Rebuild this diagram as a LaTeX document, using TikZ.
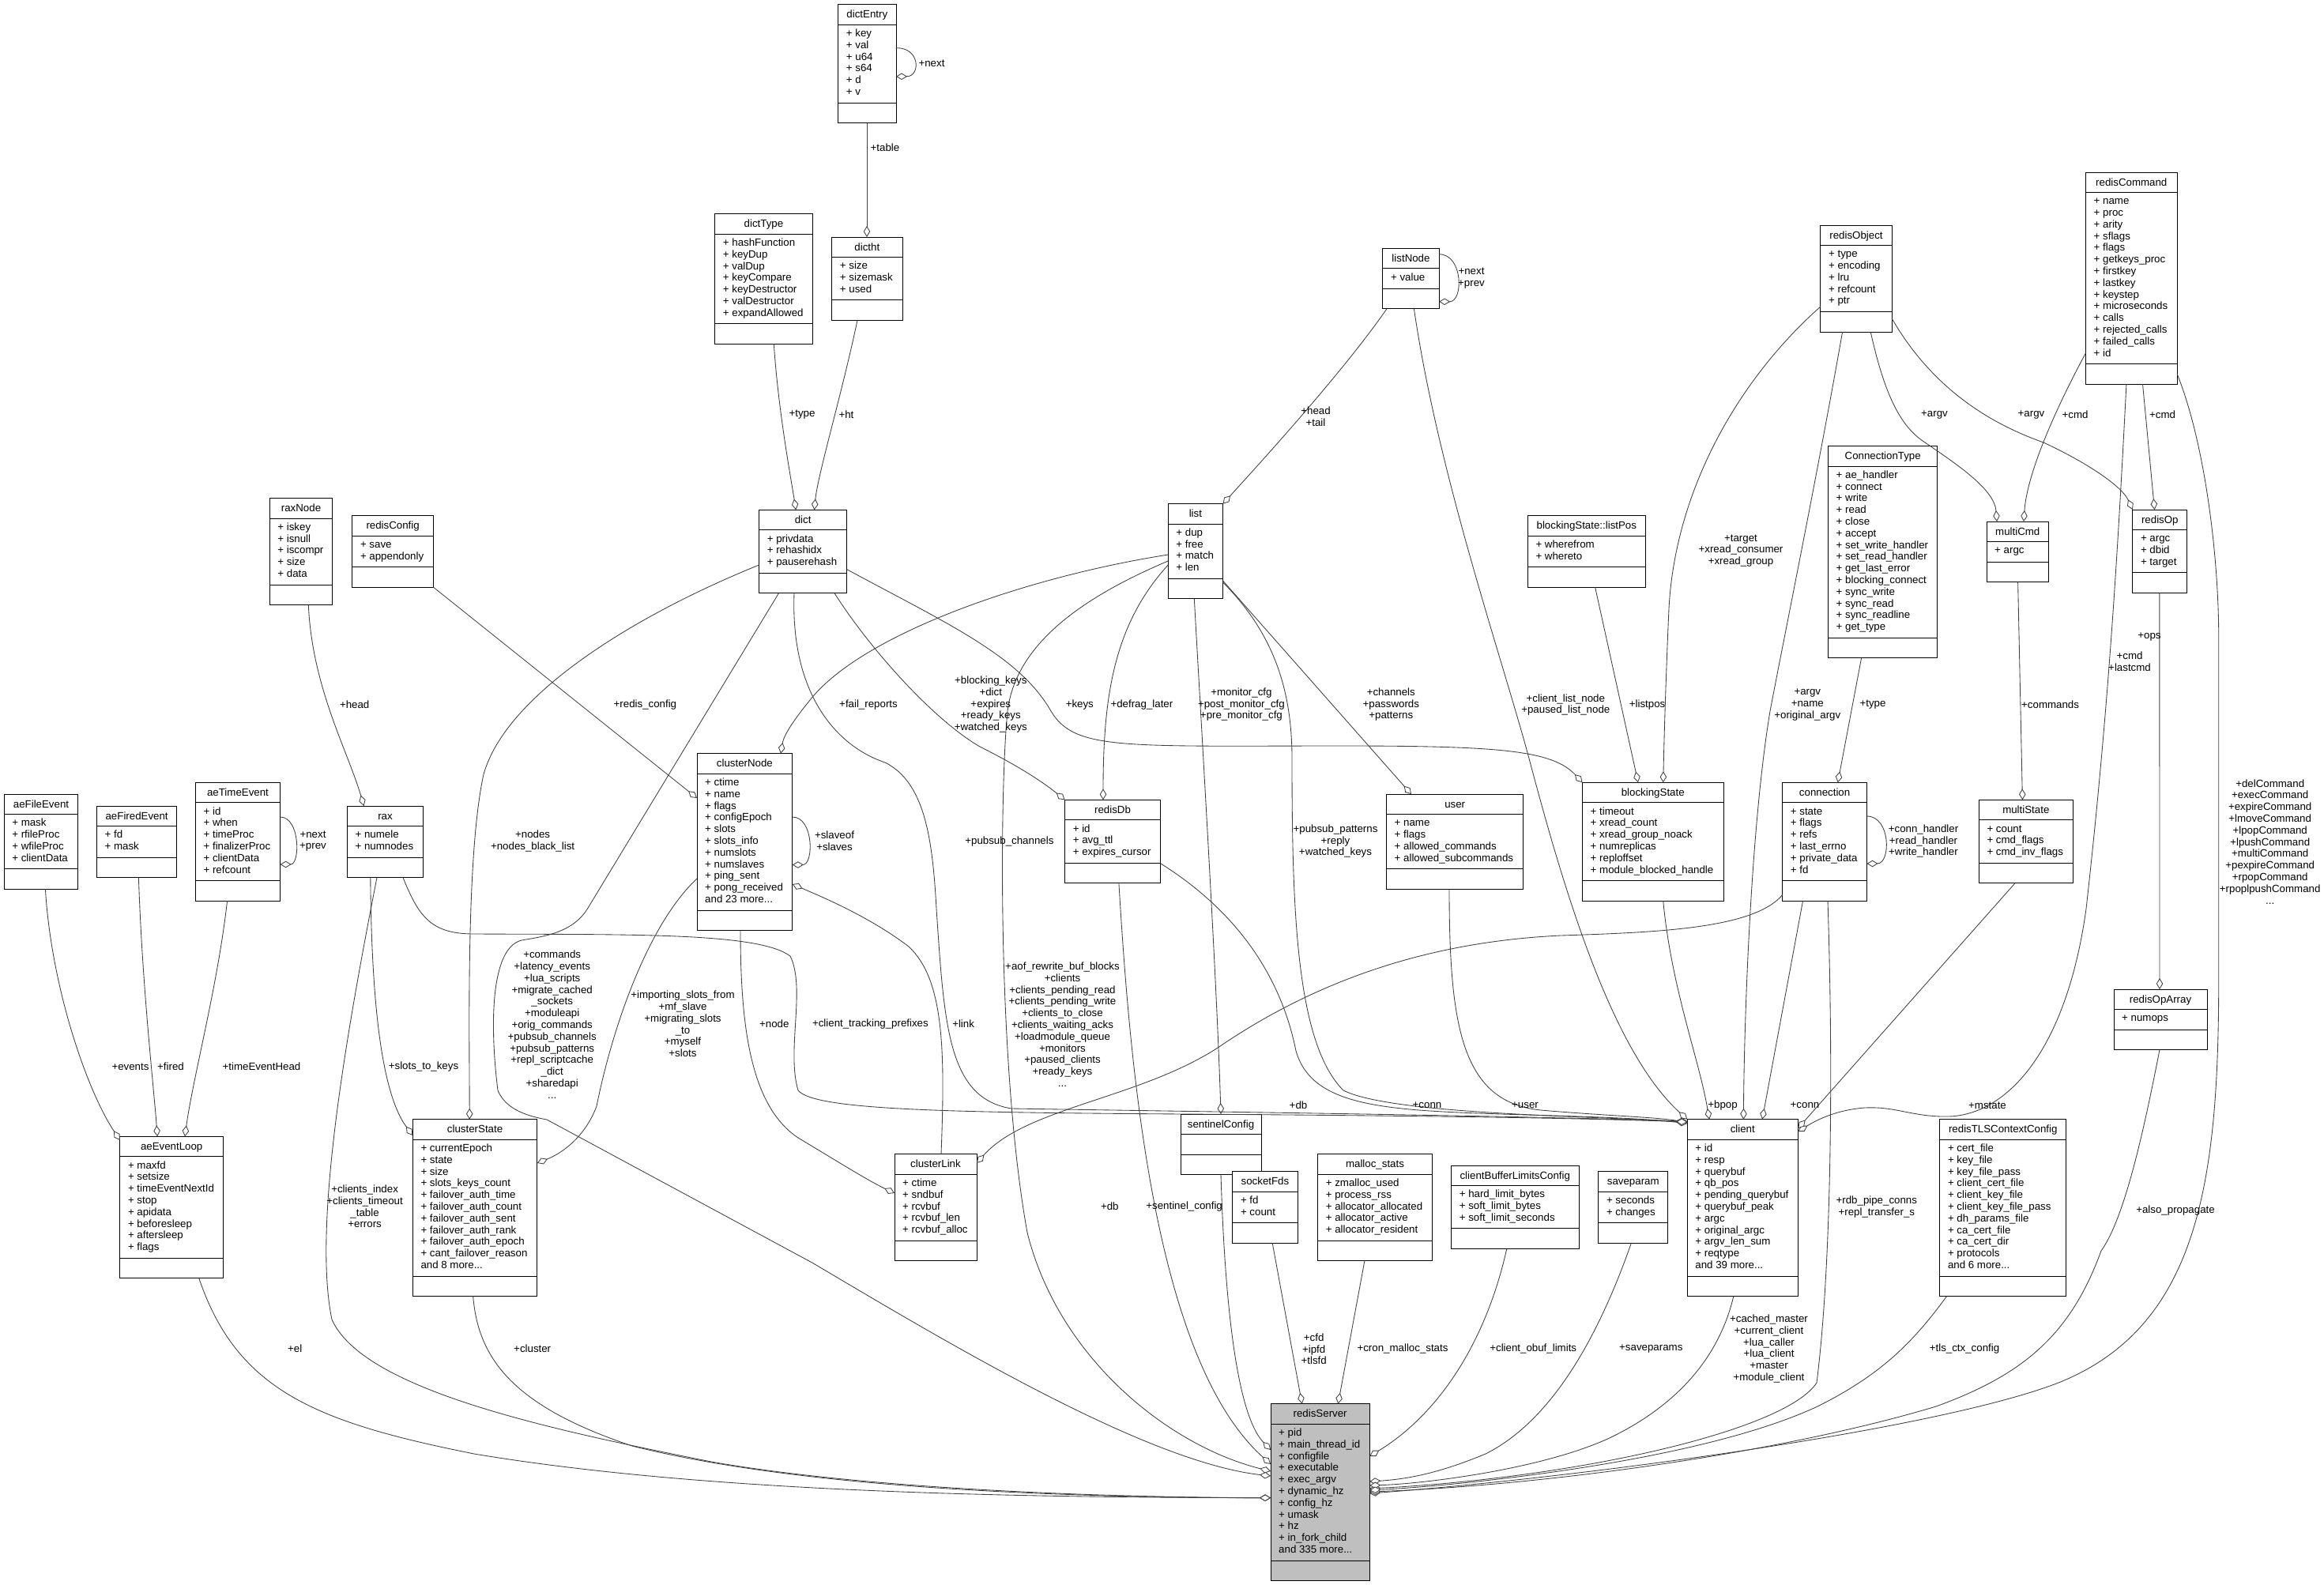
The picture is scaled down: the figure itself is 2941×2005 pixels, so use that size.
\documentclass[tikz,border=0pt]{standalone}
\usepackage{fontspec}
\setmainfont{Liberation Sans}
\usetikzlibrary{arrows.meta,calc}
\definecolor{edgec}{HTML}{404040}
\definecolor{srvfill}{HTML}{BFBFBF}
\newcommand\umlfont{\fontsize{13.3}{14.8}\selectfont}
\tikzset{
 umlbox/.style={draw=black, line width=1pt, inner sep=0pt, outer sep=0pt},
 umlsep/.style={draw=black, line width=1pt},
 umltitle/.style={anchor=base, inner sep=0pt, font=\umlfont},
 umlmem/.style={anchor=north west, align=left, inner sep=0pt, font=\umlfont},
 agg/.style={draw=edgec, line width=0.85pt, -{Diamond[length=14pt,width=8.5pt,fill=white]}},
 lbl/.style={align=center, inner sep=0pt, font=\umlfont},
}
\newcommand\umlcls[8][white]{%
  \pgfmathsetmacro\umlhm{max(#7*14.8+10,25.5)}%
  \pgfmathsetmacro\umlht{51+\umlhm}%
  \node[umlbox, fill=#1, minimum width=#6pt, minimum height=\umlht pt, anchor=north west] (#2) at (#4,#5) {};%
  \draw[umlsep] ($(#2.north west)+(0,25.5)$) -- ($(#2.north east)+(0,25.5)$);%
  \draw[umlsep] ($(#2.south west)+(0,-25.5)$) -- ($(#2.south east)+(0,-25.5)$);%
  \node[umltitle] (#2-t) at ($(#2.north)+(0,17)$) {#3};%
  \node[umlmem] (#2-m) at ($(#2.north west)+(10,30)$) {\rule{0pt}{10.5pt}#8};%
}
\begin{document}
\begin{tikzpicture}[x=1pt,y=-1pt]
\fill[white] (0,0) rectangle (2941,2005);
\useasboundingbox (0,0) rectangle (2941,2005);

% ---------------- classes ----------------
\umlcls{dictEntry}{dictEntry}{1060.7}{5.7}{73.3}{6}{+ key\\+ val\\+ u64\\+ s64\\+ d\\+ v}
\umlcls{dictType}{dictType}{904.7}{270.7}{123.6}{7}{+ hashFunction\\+ keyDup\\+ valDup\\+ keyCompare\\+ keyDestructor\\+ valDestructor\\+ expandAllowed}
\umlcls{dictht}{dictht}{1052.7}{300}{89.3}{3}{+ size\\+ sizemask\\+ used}
\umlcls{dict}{dict}{960.6}{645.3}{111.1}{3}{+ privdata\\+ rehashidx\\+ pauserehash}
\umlcls{listNode}{listNode}{1749.9}{314.3}{71.2}{1}{+ value}
\umlcls{list}{list}{1478.2}{637.6}{69.4}{4}{+ dup\\+ free\\+ match\\+ len}
\umlcls{redisObject}{redisObject}{2303.9}{285}{90.2}{5}{+ type\\+ encoding\\+ lru\\+ refcount\\+ ptr}
\umlcls{redisCommand}{redisCommand}{2639.5}{218}{115.5}{14}{+ name\\+ proc\\+ arity\\+ sflags\\+ flags\\+ getkeys\_proc\\+ firstkey\\+ lastkey\\+ keystep\\+ microseconds\\+ calls\\+ rejected\_calls\\+ failed\_calls\\+ id}
\umlcls{ConnectionType}{ConnectionType}{2313.5}{564.5}{138.4}{14}{+ ae\_handler\\+ connect\\+ write\\+ read\\+ close\\+ accept\\+ set\_write\_handler\\+ set\_read\_handler\\+ get\_last\_error\\+ blocking\_connect\\+ sync\_write\\+ sync\_read\\+ sync\_readline\\+ get\_type}
\umlcls{multiCmd}{multiCmd}{2514}{660}{78.5}{1}{+ argc}
\umlcls{redisOp}{redisOp}{2698.8}{645}{69}{3}{+ argc\\+ dbid\\+ target}
\umlcls{listPos}{blockingState::listPos}{1933.3}{652.5}{149}{2}{+ wherefrom\\+ whereto}
\umlcls{raxNode}{raxNode}{341.2}{630.6}{79.7}{5}{+ iskey\\+ isnull\\+ iscompr\\+ size\\+ data}
\umlcls{redisConfig}{redisConfig}{445.8}{652.6}{102.7}{2}{+ save\\+ appendonly}
\umlcls{aeFileEvent}{aeFileEvent}{5.1}{1005}{93.8}{4}{+ mask\\+ rfileProc\\+ wfileProc\\+ clientData}
\umlcls{aeFiredEvent}{aeFiredEvent}{122.4}{1020}{101.5}{2}{+ fd\\+ mask}
\umlcls{aeTimeEvent}{aeTimeEvent}{247.4}{990.4}{107.2}{6}{+ id\\+ when\\+ timeProc\\+ finalizerProc\\+ clientData\\+ refcount}
\umlcls{rax}{rax}{439.4}{1020}{96.3}{2}{+ numele\\+ numnodes}
\umlcls{clusterNode}{clusterNode}{882}{953.7}{120.8}{11}{+ ctime\\+ name\\+ flags\\+ configEpoch\\+ slots\\+ slots\_info\\+ numslots\\+ numslaves\\+ ping\_sent\\+ pong\_received\\and 23 more...}
\umlcls{redisDb}{redisDb}{1347.6}{1012.3}{120.8}{3}{+ id\\+ avg\_ttl\\+ expires\_cursor}
\umlcls{user}{user}{1754.5}{1005.2}{173.4}{4}{+ name\\+ flags\\+ allowed\_commands\\+ allowed\_subcommands}
\umlcls{blockingState}{blockingState}{2002.5}{990.3}{178.5}{6}{+ timeout\\+ xread\_count\\+ xread\_group\_noack\\+ numreplicas\\+ reploffset\\+ module\_blocked\_handle}
\umlcls{connection}{connection}{2255.7}{990.3}{106.8}{6}{+ state\\+ flags\\+ refs\\+ last\_errno\\+ private\_data\\+ fd}
\umlcls{multiState}{multiState}{2504.3}{1012.3}{119}{3}{+ count\\+ cmd\_flags\\+ cmd\_inv\_flags}
\umlcls{aeEventLoop}{aeEventLoop}{151.8}{1438.3}{130.8}{8}{+ maxfd\\+ setsize\\+ timeEventNextId\\+ stop\\+ apidata\\+ beforesleep\\+ aftersleep\\+ flags}
\umlcls{clusterState}{clusterState}{522.3}{1416.7}{157.6}{11}{+ currentEpoch\\+ state\\+ size\\+ slots\_keys\_count\\+ failover\_auth\_time\\+ failover\_auth\_count\\+ failover\_auth\_sent\\+ failover\_auth\_rank\\+ failover\_auth\_epoch\\+ cant\_failover\_reason\\and 8 more...}
\umlcls{clusterLink}{clusterLink}{1132}{1460.7}{104}{5}{+ ctime\\+ sndbuf\\+ rcvbuf\\+ rcvbuf\_len\\+ rcvbuf\_alloc}
\umlcls{sentinelConfig}{sentinelConfig}{1494}{1410}{102}{0}{}
\umlcls{socketFds}{socketFds}{1559.8}{1482.7}{82.3}{2}{+ fd\\+ count}
\umlcls{mallocStats}{malloc\_stats}{1667.6}{1460.7}{144.8}{5}{+ zmalloc\_used\\+ process\_rss\\+ allocator\_allocated\\+ allocator\_active\\+ allocator\_resident}
\umlcls{cblc}{clientBufferLimitsConfig}{1836.6}{1475}{161.4}{3}{+ hard\_limit\_bytes\\+ soft\_limit\_bytes\\+ soft\_limit\_seconds}
\umlcls{saveparam}{saveparam}{2022.8}{1482.7}{87.9}{2}{+ seconds\\+ changes}
\umlcls{client}{client}{2135.2}{1416.7}{140.1}{11}{+ id\\+ resp\\+ querybuf\\+ qb\_pos\\+ pending\_querybuf\\+ querybuf\_peak\\+ argc\\+ original\_argc\\+ argv\_len\_sum\\+ reqtype\\and 39 more...}
\umlcls{tls}{redisTLSContextConfig}{2454.8}{1416.7}{159.9}{11}{+ cert\_file\\+ key\_file\\+ key\_file\_pass\\+ client\_cert\_file\\+ client\_key\_file\\+ client\_key\_file\_pass\\+ dh\_params\_file\\+ ca\_cert\_file\\+ ca\_cert\_dir\\+ protocols\\and 6 more...}
\umlcls{redisOpArray}{redisOpArray}{2675}{1252}{118}{1}{+ numops}
\umlcls[srvfill]{redisServer}{redisServer}{1608}{1776.7}{125.3}{11}{+ pid\\+ main\_thread\_id\\+ configfile\\+ executable\\+ exec\_argv\\+ dynamic\_hz\\+ config\_hz\\+ umask\\+ hz\\+ in\_fork\_child\\and 335 more...}

% ---------------- connectors ----------------
\draw[agg] (dictEntry.east |- 0,60.7) .. controls (1165,60) and (1165,97) .. (dictEntry.east |- 0,96.7);
\draw[agg] (1097,0 |- dictEntry.south) -- (1097,0 |- dictht.north);
\draw[agg] (979.3,0 |- dictType.south) .. controls (985,520) and (1000,600) .. (1007.2,0 |- dict.north);
\draw[agg] (1085,0 |- dictht.south) .. controls (1065,500) and (1035,600) .. (1030.5,0 |- dict.north);
\draw[agg] (listNode.east |- 0,321.7) .. controls (1852,322) and (1852,382) .. (listNode.east |- 0,381.7);
\draw[agg] (1755,0 |- listNode.south) .. controls (1700,470) and (1600,580) .. (list.north east);
\draw[agg] (1789.4,0 |- listNode.south) .. controls (1820,600) and (1900,830) .. (1935,960) .. controls (1980,1130) and (2040,1330) .. (client.north west);
\draw[agg] (redisObject.west |- 0,388) .. controls (2200,480) and (2120,620) .. (2112,770) .. controls (2108,860) and (2106,930) .. (2104.7,0 |- blockingState.north);
\draw[agg] (2331.6,0 |- redisObject.south) .. controls (2300,600) and (2255,820) .. (2240,900) .. controls (2215,1050) and (2207,1300) .. (2206.4,0 |- client.north);
\draw[agg] (2367.2,0 |- redisObject.south) .. controls (2385,500) and (2405,540) .. (2436,560) .. controls (2480,590) and (2524,620) .. (2527,0 |- multiCmd.north);
\draw[agg] (redisObject.east |- 0,403) .. controls (2450,500) and (2530,540) .. (2586,560) .. controls (2640,585) and (2685,615) .. (redisOp.north west);
\draw[agg] (redisCommand.west |- 0,446.7) .. controls (2600,520) and (2565,600) .. (2561,0 |- multiCmd.north);
\draw[agg] (2711.5,0 |- redisCommand.south) -- (2726.5,0 |- redisOp.north);
\draw[agg] (2690.9,0 |- redisCommand.south) .. controls (2680,700) and (2668,900) .. (2640,1150) .. controls (2615,1330) and (2540,1410) .. (2467,1413) .. controls (2420,1414) and (2400,1400) .. (2360,1402) .. controls (2320,1405) and (2295,1420) .. (client.east |- 0,1432);
\draw[agg] (redisCommand.east |- 0,473) .. controls (2790,560) and (2807,700) .. (2807.7,800) -- (2807.7,1250) .. controls (2807,1500) and (2780,1680) .. (2605,1750) .. controls (2450,1810) and (2000,1870) .. (redisServer.east |- 0,1890);
\draw[agg] (2355.6,0 |- ConnectionType.south) -- (2325.7,0 |- connection.north);
\draw[agg] (connection.east |- 0,1033) .. controls (2393,1033) and (2393,1093) .. (connection.east |- 0,1093);
\draw[agg] (2281.5,0 |- connection.south) -- (2230.1,0 |- client.north);
\draw[agg] (connection.west |- 0,1132.5) .. controls (2220,1175) and (2100,1180) .. (1975,1184) .. controls (1850,1190) and (1700,1220) .. (1550,1320) .. controls (1450,1390) and (1300,1400) .. (clusterLink.east |- 0,1472);
\draw[agg] (2313,0 |- connection.south) .. controls (2320,1350) and (2318,1600) .. (2299,1750) .. controls (2260,1810) and (2000,1870) .. (redisServer.east |- 0,1884);
\draw[agg] (2553.6,0 |- multiCmd.south) -- (2559.4,0 |- multiState.north);
\draw[agg] (2550,0 |- multiState.south) -- (client.east |- 0,1428);
\draw[agg] (2732.8,0 |- redisOp.south) -- (2733,0 |- redisOpArray.north);
\draw[agg] (2733,0 |- redisOpArray.south) .. controls (2715,1420) and (2690,1540) .. (2659,1583) .. controls (2620,1690) and (2560,1740) .. (2450,1780) .. controls (2250,1840) and (1950,1880) .. (redisServer.east |- 0,1888);
\draw[agg] (2018.6,0 |- listPos.south) -- (2073,0 |- blockingState.north);
\draw[agg] (2104.7,0 |- blockingState.south) .. controls (2115,1250) and (2150,1340) .. (2163.1,0 |- client.north);
\draw[agg] (1834,0 |- user.south) .. controls (1834,1300) and (1850,1395) .. (1950,1405) .. controls (2030,1412) and (2100,1414) .. (client.west |- 0,1421);
\draw[agg] (list.east |- 0,735) -- (1786,0 |- user.north);
\draw[agg] (list.east |- 0,737) .. controls (1610,800) and (1635,870) .. (1635,960) .. controls (1635,1150) and (1640,1320) .. (1700,1380) .. controls (1760,1410) and (2000,1412) .. (client.west |- 0,1420);
\draw[agg] (list.west |- 0,715) .. controls (1410,790) and (1396,880) .. (1396,0 |- redisDb.north);
\draw[agg] (1511.3,0 |- list.south) .. controls (1525,1000) and (1540,1250) .. (1545,0 |- sentinelConfig.north);
\draw[agg] (list.west |- 0,702) .. controls (1300,730) and (1100,800) .. (1030,880) .. controls (1005,910) and (992,930) .. (988,0 |- clusterNode.north);
\draw[agg] (list.west |- 0,710) .. controls (1360,760) and (1285,820) .. (1275,900) .. controls (1265,1000) and (1262,1350) .. (1300,1560) .. controls (1340,1720) and (1480,1830) .. (redisServer.west |- 0,1862);
\draw[agg] (dict.east |- 0,720.6) .. controls (1200,790) and (1290,830) .. (1330,900) .. controls (1360,950) and (1420,944) .. (1700,944) .. controls (1900,944) and (1965,950) .. (blockingState.north west);
\draw[agg] (1056,0 |- dict.south) .. controls (1100,820) and (1180,910) .. (1240,945) .. controls (1290,970) and (1320,990) .. (redisDb.north west);
\draw[agg] (1005,0 |- dict.south) .. controls (1000,880) and (1060,945) .. (1120,965) .. controls (1170,990) and (1180,1060) .. (1185,1150) .. controls (1195,1300) and (1200,1390) .. (1280,1403) .. controls (1600,1408) and (1900,1412) .. (client.west |- 0,1419);
\draw[agg] (dict.west |- 0,715) .. controls (800,780) and (640,880) .. (612,980) .. controls (590,1080) and (594,1300) .. (594.2,0 |- clusterState.north);
\draw[agg] (985.5,0 |- dict.south) -- (743.5,1150) .. controls (725,1180) and (690,1185) .. (660,1190) .. controls (620,1200) and (620,1300) .. (630,1380) .. controls (640,1405) and (670,1413) .. (692,1417) -- (1027.7,1598) .. controls (1200,1700) and (1450,1850) .. (redisServer.west |- 0,1868);
\draw[agg] (redisDb.east |- 0,1092.6) .. controls (1560,1150) and (1620,1230) .. (1640,1330) .. controls (1660,1400) and (1750,1405) .. (1900,1410) .. controls (2000,1413) and (2080,1415) .. (client.west |- 0,1422);
\draw[agg] (1415.9,0 |- redisDb.south) .. controls (1430,1350) and (1460,1720) .. (redisServer.west |- 0,1853);
\draw[agg] (1545,0 |- sentinelConfig.south) .. controls (1550,1650) and (1565,1790) .. (redisServer.west |- 0,1835);
\draw[agg] (clusterNode.east |- 0,1034) .. controls (1030,1034) and (1030,1094.5) .. (clusterNode.east |- 0,1094.5);
\draw[agg] (clusterNode.west |- 0,1112) .. controls (820,1170) and (775,1300) .. (755,1400) .. controls (740,1440) and (710,1460) .. (clusterState.east |- 0,1472);
\draw[agg] (937,0 |- clusterNode.south) .. controls (937,1300) and (950,1400) .. (1010,1440) .. controls (1060,1470) and (1100,1495) .. (clusterLink.west |- 0,1510);
\draw[agg] (1191,0 |- clusterLink.north) .. controls (1196,1330) and (1195,1240) .. (1150,1198) .. controls (1100,1160) and (1040,1135) .. (clusterNode.east |- 0,1119);
\draw[agg] (510,0 |- rax.south) .. controls (530,1160) and (545,1182) .. (600,1182) .. controls (800,1183) and (960,1180) .. (1000,1210) .. controls (1020,1250) and (995,1330) .. (1010,1380) .. controls (1030,1405) and (1200,1408) .. (1500,1410) .. controls (1800,1412) and (2000,1415) .. (client.west |- 0,1420);
\draw[agg] (468.8,0 |- rax.south) .. controls (470,1250) and (480,1380) .. (clusterState.west |- 0,1437);
\draw[agg] (477,0 |- rax.south) .. controls (440,1300) and (395,1550) .. (420,1670) .. controls (460,1760) and (700,1810) .. (900,1850) .. controls (1100,1885) and (1400,1895) .. (redisServer.west |- 0,1895.7);
\draw[agg] (390.3,0 |- raxNode.south) .. controls (395,870) and (440,950) .. (460.5,0 |- rax.north);
\draw[agg] (redisConfig.south east) -- (clusterNode.west |- 0,1010);
\draw[agg] (57.4,0 |- aeFileEvent.south) .. controls (65,1250) and (110,1380) .. (aeEventLoop.west |- 0,1443);
\draw[agg] (175.4,0 |- aeFiredEvent.south) .. controls (180,1250) and (195,1380) .. (199.1,0 |- aeEventLoop.north);
\draw[agg] (287.6,0 |- aeTimeEvent.south) .. controls (275,1250) and (245,1360) .. (233.9,0 |- aeEventLoop.north);
\draw[agg] (aeTimeEvent.east |- 0,1034) .. controls (380,1034) and (380,1094) .. (aeTimeEvent.east |- 0,1094);
\draw[agg] (251.8,0 |- aeEventLoop.south) .. controls (300,1760) and (400,1800) .. (600,1840) .. controls (900,1890) and (1300,1895) .. (redisServer.west |- 0,1895.7);
\draw[agg] (598.7,0 |- clusterState.south) .. controls (605,1720) and (650,1780) .. (800,1830) .. controls (1000,1880) and (1300,1895) .. (redisServer.west |- 0,1895.7);
\draw[agg] (1610.2,0 |- socketFds.south) -- (1647.7,0 |- redisServer.north);
\draw[agg] (1726.9,0 |- mallocStats.south) -- (1693.3,0 |- redisServer.north);
\draw[agg] (1906.8,0 |- cblc.south) .. controls (1880,1700) and (1820,1790) .. (redisServer.east |- 0,1843);
\draw[agg] (2064.3,0 |- saveparam.south) .. controls (2020,1700) and (1960,1800) .. (1880,1840) .. controls (1820,1865) and (1780,1872) .. (redisServer.east |- 0,1875);
\draw[agg] (2193.8,0 |- client.south) .. controls (2175,1720) and (2120,1780) .. (2036.7,1820) .. controls (1950,1860) and (1800,1878) .. (redisServer.east |- 0,1880);
\draw[agg] (2463.6,0 |- tls.south) .. controls (2420,1700) and (2380,1740) .. (2300,1780) .. controls (2150,1850) and (1850,1880) .. (redisServer.east |- 0,1886);

% ---------------- labels ----------------
\node[lbl] (L1) at (1179,80) {+next};
\node[lbl] (L2) at (1120,187) {+table};
\node[lbl] (L3) at (1015,525) {+type};
\node[lbl] (L4) at (1071,525) {+ht};
\node[lbl] (L5) at (1862,352) {+next\\+prev};
\node[lbl] (L6) at (1665,527) {+head\\+tail};
\node[lbl] (L7) at (2203,697) {+target\\+xread\_consumer\\+xread\_group};
\node[lbl] (L8) at (2287.3,892) {+argv\\+name\\+original\_argv};
\node[lbl] (L9) at (2448,525) {+argv};
\node[lbl] (L10) at (2570.5,525) {+argv};
\node[lbl] (L11) at (2626,525) {+cmd};
\node[lbl] (L12) at (2736.5,525) {+cmd};
\node[lbl] (L13) at (2370,892) {+type};
\node[lbl] (L14) at (2084.6,892) {+listpos};
\node[lbl] (L15) at (1981.3,892) {+client\_list\_node\\+paused\_list\_node};
\node[lbl] (L16) at (1760.3,891.6) {+channels\\+passwords\\+patterns};
\node[lbl] (L17) at (2594.6,892) {+commands};
\node[lbl] (L18) at (2434,1064.5) {+conn\_handler\\+read\_handler\\+write\_handler};
\node[lbl] (L19) at (1056,1064) {+slaveof\\+slaves};
\node[lbl] (L20) at (674.1,1064.5) {+nodes\\+nodes\_black\_list};
\node[lbl] (L21) at (816.4,891.8) {+redis\_config};
\node[lbl] (L22) at (448.7,891.8) {+head};
\node[lbl] (L23) at (1099,891.7) {+fail\_reports};
\node[lbl] (L24) at (1253.8,891.7) {+blocking\_keys\\+dict\\+expires\\+ready\_keys\\+watched\_keys};
\node[lbl] (L25) at (1366.3,891.7) {+keys};
\node[lbl] (L26) at (1444.9,891.7) {+defrag\_later};
\node[lbl] (L27) at (1570.9,891.7) {+monitor\_cfg\\+post\_monitor\_cfg\\+pre\_monitor\_cfg};
\node[lbl] (L28) at (1690,1064.7) {+pubsub\_patterns\\+reply\\+watched\_keys};
\node[lbl] (L29) at (1277.4,1064.7) {+pubsub\_channels};
\node[lbl] (L30) at (396,1064.5) {+next\\+prev};
\node[lbl] (L31) at (698.7,1296.7) {+commands\\+latency\_events\\+lua\_scripts\\+migrate\_cached\\\_sockets\\+moduleapi\\+orig\_commands\\+pubsub\_channels\\+pubsub\_patterns\\+repl\_scriptcache\\\_dict\\+sharedapi\\...};
\node[lbl] (L32) at (864,1296) {+importing\_slots\_from\\+mf\_slave\\+migrating\_slots\\\_to\\+myself\\+slots};
\node[lbl] (L33) at (979.8,1295.7) {+node};
\node[lbl] (L34) at (1101.4,1295.7) {+client\_tracking\_prefixes};
\node[lbl] (L35) at (1219.1,1295.7) {+link};
\node[lbl] (L36) at (1344.5,1296.7) {+aof\_rewrite\_buf\_blocks\\+clients\\+clients\_pending\_read\\+clients\_pending\_write\\+clients\_to\_close\\+clients\_waiting\_acks\\+loadmodule\_queue\\+monitors\\+paused\_clients\\+ready\_keys\\...};
\node[lbl] (L37) at (1404.3,1527) {+db};
\node[lbl] (L38) at (1498.6,1527) {+sentinel\_config};
\node[lbl] (L39) at (461.6,1527) {+clients\_index\\+clients\_timeout\\\_table\\+errors};
\node[lbl] (L40) at (373.2,1706.7) {+el};
\node[lbl] (L41) at (673.7,1706.7) {+cluster};
\node[lbl] (L42) at (165,1350) {+events};
\node[lbl] (L43) at (216,1350) {+fired};
\node[lbl] (L44) at (331,1350) {+timeEventHead};
\node[lbl] (L45) at (536,1350) {+slots\_to\_keys};
\node[lbl] (L46) at (1662.7,1707.3) {+cfd\\+ipfd\\+tlsfd};
\node[lbl] (L47) at (1775,1707.3) {+cron\_malloc\_stats};
\node[lbl] (L48) at (1940.2,1707.3) {+client\_obuf\_limits};
\node[lbl] (L49) at (2089.3,1707.3) {+saveparams};
\node[lbl] (L50) at (2238.5,1707) {+cached\_master\\+current\_client\\+lua\_caller\\+lua\_client\\+master\\+module\_client};
\node[lbl] (L51) at (2374.8,1527.5) {+rdb\_pipe\_conns\\+repl\_transfer\_s};
\node[lbl] (L52) at (2486,1706.7) {+tls\_ctx\_config};
\node[lbl] (L53) at (2753,1532) {+also\_propagate};
\node[lbl] (L54) at (2872.7,1065.3) {+delCommand\\+execCommand\\+expireCommand\\+lmoveCommand\\+lpopCommand\\+lpushCommand\\+multiCommand\\+pexpireCommand\\+rpopCommand\\+rpoplpushCommand\\...};
\node[lbl] (L55) at (2695,837) {+cmd\\+lastcmd};
\node[lbl] (L56) at (2720,806) {+ops};
\node[lbl] (L57) at (2515,1399) {+mstate};
\node[lbl] (L58) at (2284,1399) {+conn};
\node[lbl] (L59) at (2180,1399) {+bpop};
\node[lbl] (L60) at (1930,1399) {+user};
\node[lbl] (L61) at (1806,1399) {+conn};
\node[lbl] (L62) at (1643,1399) {+db};
\end{tikzpicture}
\end{document}
